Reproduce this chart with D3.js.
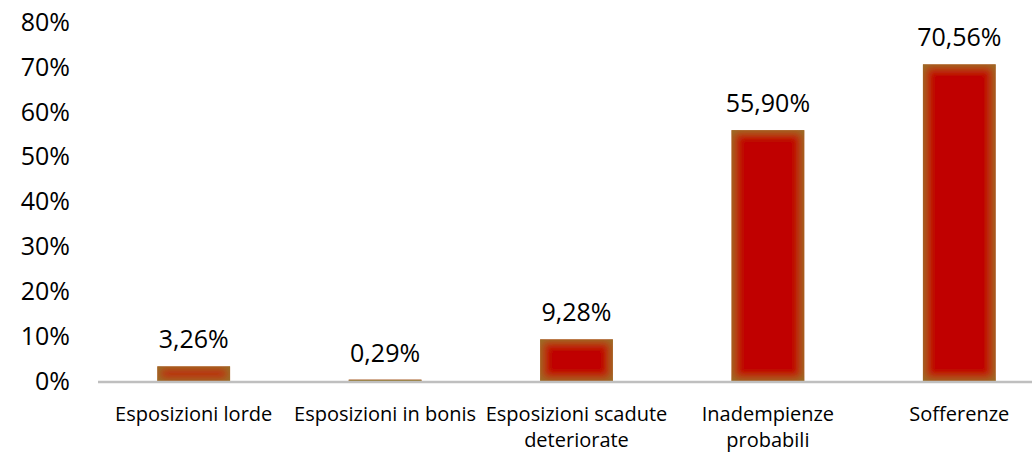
<!DOCTYPE html>
<html>
<head>
<meta charset="utf-8">
<script src="https://cdn.jsdelivr.net/npm/d3@7"></script>
<style>
	body { margin: 0; background: #fff; }
	svg { display: block; font-family: "Open Sans", "Noto Sans", sans-serif; }
</style>
</head>
<body>
<div id="chart"></div>
<script>
var categories = [["Esposizioni lorde"], ["Esposizioni in bonis"], ["Esposizioni scadute", "deteriorate"], ["Inadempienze", "probabili"], ["Sofferenze"]];
var values = [3.26, 0.29, 9.28, 55.90, 70.56];
var valueLabels = ["3,26%", "0,29%", "9,28%", "55,90%", "70,56%"];
var yTicks = [0, 10, 20, 30, 40, 50, 60, 70, 80];

function init(){
	var w = 1032;
	var h = 452;

	var svg = d3.select("#chart")
				.append("svg")
				.attr("width", w)
				.attr("height", h);

	//inner glow on the bars
	var defs = svg.append("defs");
	var f = defs.append("filter").attr("id", "glow")
				.attr("x", "-10%").attr("y", "-10%").attr("width", "120%").attr("height", "120%");
	f.append("feMorphology").attr("in", "SourceAlpha").attr("operator", "erode").attr("radius", 2).attr("result", "er");
	f.append("feGaussianBlur").attr("in", "er").attr("stdDeviation", 5).attr("result", "bl");
	f.append("feComposite").attr("in", "SourceAlpha").attr("in2", "bl").attr("operator", "out").attr("result", "edge");
	f.append("feFlood").attr("flood-color", "#8c7a2c").attr("flood-opacity", 0.9).attr("result", "col");
	f.append("feComposite").attr("in", "col").attr("in2", "edge").attr("operator", "in").attr("result", "gl");
	var m = f.append("feMerge");
	m.append("feMergeNode").attr("in", "SourceGraphic");
	m.append("feMergeNode").attr("in", "gl");

	var xScale = d3.scaleBand()
					.domain(d3.range(categories.length))
					.range([98, 1055])
					.paddingInner(0.62)
					.paddingOuter(0.31);

	var yScale = d3.scaleLinear()
					.domain([0, 80])
					.range([381, 22]);

	//y labels
	svg.append("g")
		.selectAll("text")
		.data(yTicks)
		.enter()
		.append("text")
		.attr("x", 70)
		.attr("y", function(d){ return yScale(d); })
		.attr("dy", "0.35em")
		.attr("text-anchor", "end")
		.attr("font-size", 25)
		.attr("fill", "#000")
		.text(function(d){ return d + "%"; });

	//bars
	svg.append("g")
		.selectAll("rect")
		.data(values)
		.enter()
		.append("rect")
		.attr("x", function(d, i){ return xScale(i); })
		.attr("y", function(d){ return yScale(d); })
		.attr("width", xScale.bandwidth())
		.attr("height", function(d){ return yScale(0) - yScale(d); })
		.attr("fill", "#c00000")
		.attr("filter", "url(#glow)");

	//x axis line
	svg.append("line")
		.attr("x1", 98).attr("x2", w)
		.attr("y1", yScale(0) + 1).attr("y2", yScale(0) + 1)
		.attr("stroke", "#bfbfbf")
		.attr("stroke-width", 2.5);

	//value labels
	svg.append("g")
		.selectAll("text")
		.data(values)
		.enter()
		.append("text")
		.attr("x", function(d, i){ return xScale(i) + xScale.bandwidth() / 2; })
		.attr("y", function(d){ return yScale(d) - 18; })
		.attr("text-anchor", "middle")
		.attr("font-size", 25)
		.attr("fill", "#000")
		.text(function(d, i){ return valueLabels[i]; });

	//category labels
	var cat = svg.append("g")
		.selectAll("text")
		.data(categories)
		.enter()
		.append("text")
		.attr("x", function(d, i){ return xScale(i) + xScale.bandwidth() / 2; })
		.attr("y", 421)
		.attr("text-anchor", "middle")
		.attr("font-size", 20)
		.attr("fill", "#000");
	cat.selectAll("tspan")
		.data(function(d){ return d; })
		.enter()
		.append("tspan")
		.attr("x", function(){ return d3.select(this.parentNode).attr("x"); })
		.attr("dy", function(d, i){ return i ? 26 : 0; })
		.text(function(d){ return d; });
}

window.onload = init;
</script>
</body>
</html>
